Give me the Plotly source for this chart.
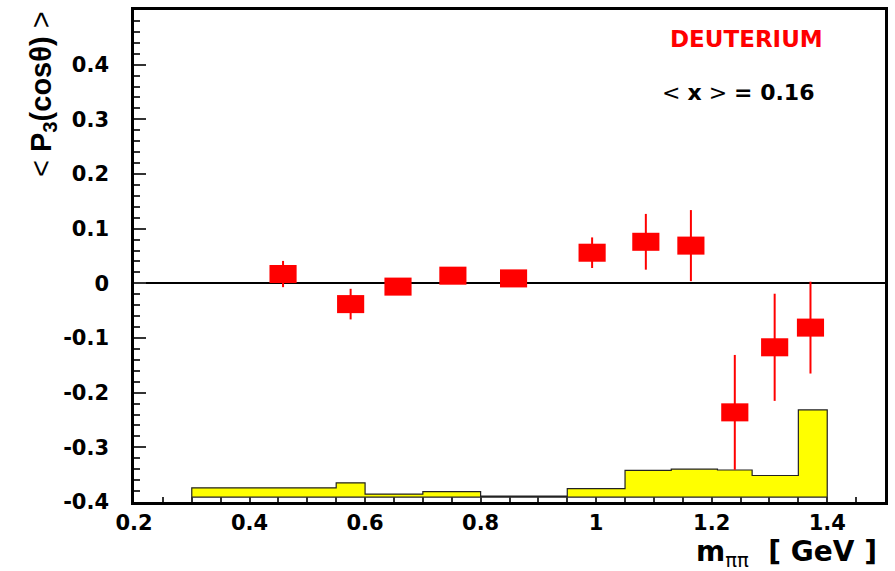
import plotly.graph_objects as go

# ---- data ----
m_pipi = [0.458, 0.575, 0.657, 0.752, 0.857, 0.993, 1.086, 1.164, 1.240, 1.309, 1.371]
p3_mean = [0.017, -0.038, -0.006, 0.014, 0.009, 0.056, 0.076, 0.069, -0.236, -0.117, -0.081]
p3_err = [0.024, 0.028, 0.010, 0.008, 0.008, 0.028, 0.051, 0.065, 0.105, 0.098, 0.084]

syst_edges = [0.30, 0.55, 0.60, 0.70, 0.80, 0.95, 1.05, 1.13, 1.21, 1.27, 1.35, 1.40]
syst_top = [-0.374, -0.365, -0.3855, -0.381, -0.389, -0.3756, -0.342, -0.340, -0.3415, -0.3515, -0.2315]
syst_base = -0.391

y_tickvals = [-0.4, -0.3, -0.2, -0.1, 0.0, 0.1, 0.2, 0.3, 0.4]
y_ticktext = ["-0.4", "-0.3", "-0.2", "-0.1", "0", "0.1", "0.2", "0.3", "0.4"]
x_tickvals = [0.2, 0.4, 0.6, 0.8, 1.0, 1.2, 1.4]
x_ticktext = ["0.2", "0.4", "0.6", "0.8", "1", "1.2", "1.4"]

# ---- styling constants ----
BOX_W = 0.047
BOX_H = 0.033
RED = "#ff0000"
FONT = "DejaVu Sans"

# systematic band polygon (step histogram)
hx = [syst_edges[0]]
hy = [syst_base]
for i, top in enumerate(syst_top):
    hx += [syst_edges[i], syst_edges[i + 1]]
    hy += [top, top]
hx += [syst_edges[-1], syst_edges[0]]
hy += [syst_base, syst_base]

fig = go.Figure()
fig.add_trace(go.Scatter(
    x=hx, y=hy, mode="lines", fill="toself", fillcolor="#ffff00",
    line=dict(color="#222222", width=1.2), hoverinfo="skip", showlegend=False))

fig.add_trace(go.Scatter(
    x=m_pipi, y=p3_mean, mode="markers",
    marker=dict(size=1, color="rgba(0,0,0,0)"),
    error_y=dict(type="data", array=p3_err, color=RED, thickness=2, width=0),
    showlegend=False))

fig.add_trace(go.Bar(
    x=m_pipi, y=[BOX_H] * len(m_pipi),
    base=[v - BOX_H / 2 for v in p3_mean],
    width=BOX_W, marker=dict(color=RED, line=dict(width=0)),
    showlegend=False))

fig.update_layout(
    width=895, height=571,
    margin=dict(l=134, r=9, t=7, b=69),
    paper_bgcolor="white", plot_bgcolor="white",
    showlegend=False,
)

fig.update_xaxes(
    range=[0.2, 1.5], showgrid=False, zeroline=False,
    showline=True, linecolor="black", linewidth=2.5, mirror=True,
    tickmode="array", tickvals=x_tickvals, ticktext=x_ticktext,
    ticks="inside", ticklen=5, tickwidth=1.5, tickcolor="#333333",
    minor=dict(dtick=0.05, tick0=0.0, ticks="inside", ticklen=5, tickwidth=1.5, tickcolor="#333333"),
    tickfont=dict(family=FONT, size=21, color="black", weight="bold"),
    ticklabelstandoff=0,
)
fig.update_yaxes(
    range=[-0.4, 0.5], showgrid=False,
    zeroline=True, zerolinecolor="black", zerolinewidth=2,
    showline=True, linecolor="black", linewidth=2.5, mirror=True,
    tickmode="array", tickvals=y_tickvals, ticktext=y_ticktext,
    ticks="inside", ticklen=12, tickwidth=1.5, tickcolor="#333333",
    minor=dict(dtick=0.02, tick0=0.0, ticks="inside", ticklen=6, tickwidth=1.5, tickcolor="#333333"),
    tickfont=dict(family=FONT, size=21, color="black", weight="bold"),
    ticklabelstandoff=18,
)

fig.add_annotation(
    text="DEUTERIUM", xref="paper", yref="paper", x=0.815, y=0.942,
    xanchor="center", yanchor="middle", showarrow=False,
    font=dict(family=FONT, size=23, color=RED, weight="bold"))
fig.add_annotation(
    text="< <b>x</b> > <b>= 0.16</b>", xref="paper", yref="paper", x=0.8045, y=0.832,
    xanchor="center", yanchor="middle", showarrow=False,
    font=dict(family=FONT, size=22, color="black"))
fig.add_annotation(
    text="<span style='font-weight:normal'><</span> P<sub>3</sub>(cosθ) <span style='font-weight:normal'>></span>",
    xref="paper", yref="paper",
    x=-0.122, y=0.83, xanchor="center", yanchor="middle", textangle=-90,
    showarrow=False, font=dict(family="Liberation Sans", size=29, color="black", weight="bold"))
fig.add_annotation(
    text="<b>m</b><sub>ππ</sub><b>  [ GeV ]</b>", xref="paper", yref="paper",
    x=0.992, y=-0.104, xanchor="right", yanchor="middle", showarrow=False,
    font=dict(family=FONT, size=28, color="black"))

fig.write_html("out.html")
